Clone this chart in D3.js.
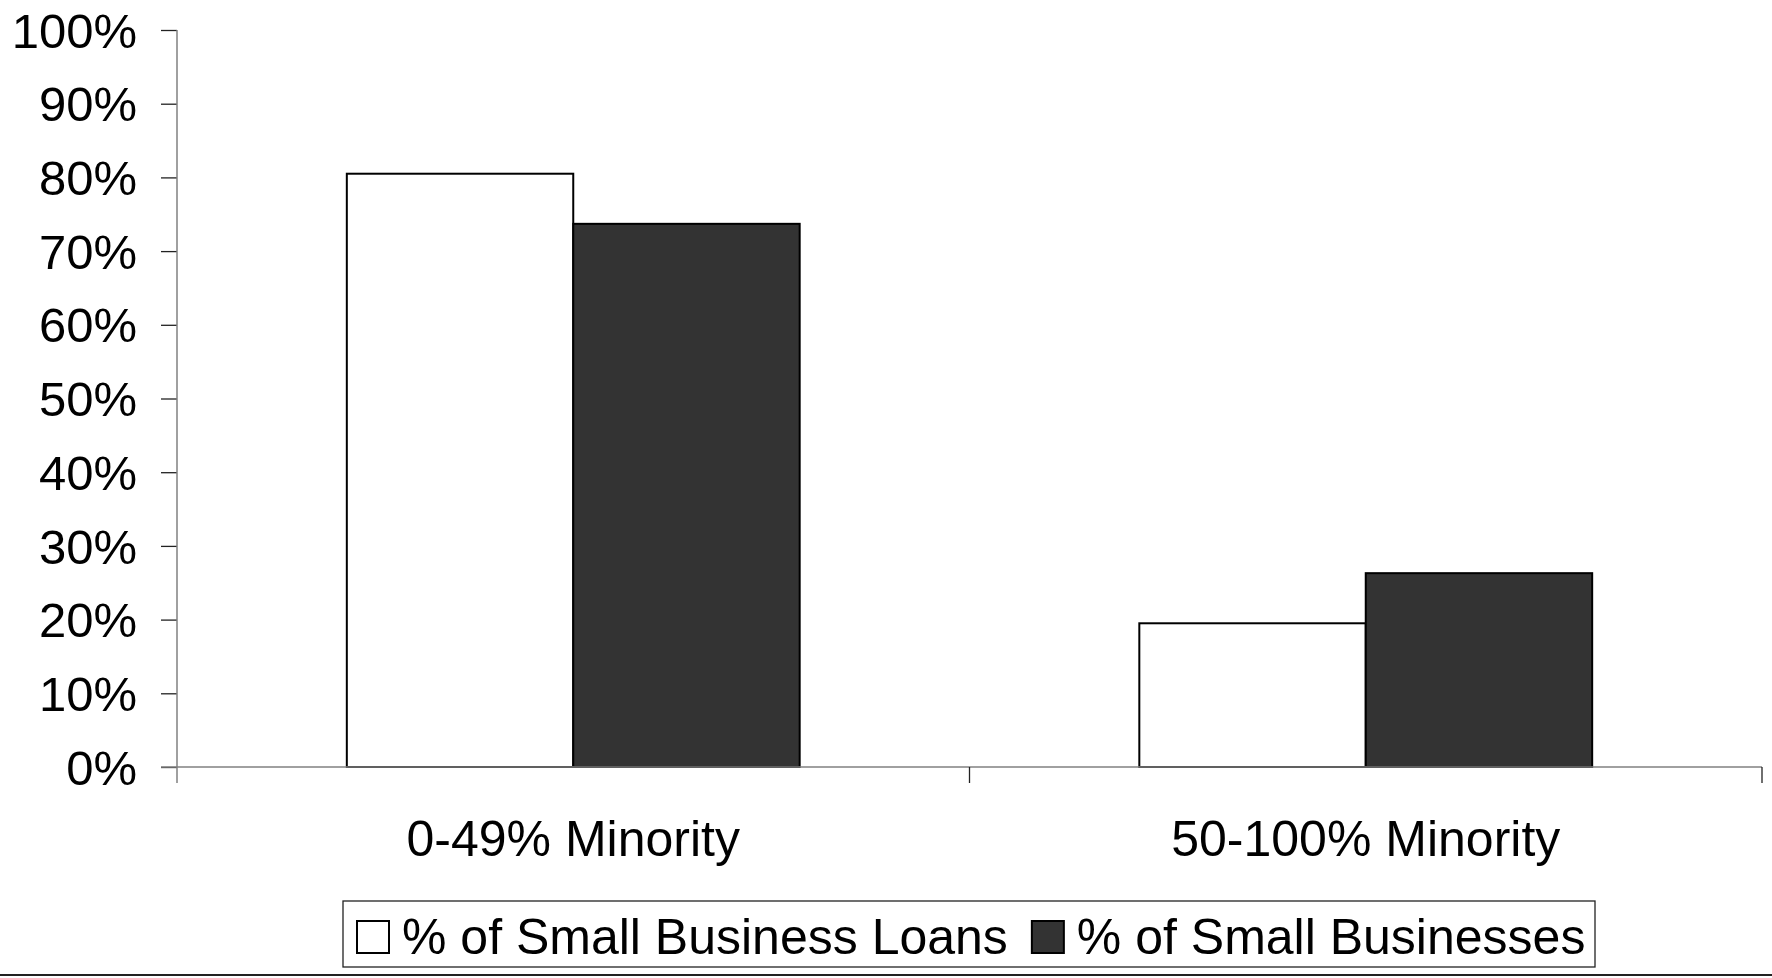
<!DOCTYPE html>
<html>
<head>
<meta charset="utf-8">
<script src="https://cdn.jsdelivr.net/npm/d3@7"></script>
<style>
  html, body { margin: 0; padding: 0; background: #ffffff; }
  svg { display: block; font-family: "Liberation Sans", Arial, sans-serif; }
</style>
</head>
<body>
<svg id="chart" width="1772" height="978"></svg>
<script>
// Share of small business loans vs. share of small businesses, by tract minority level
const categories = ["0-49% Minority", "50-100% Minority"];
const seriesNames = ["% of Small Business Loans", "% of Small Businesses"];
const loansPct = [80.5, 19.5];
const businessesPct = [73.7, 26.3];
const yTicks = [0, 10, 20, 30, 40, 50, 60, 70, 80, 90, 100];
const seriesColors = ["#ffffff", "#333333"];

const width = 1772, height = 978;
const plot = { left: 177, right: 1762, top: 30, bottom: 767 };

const svg = d3.select("#chart");

const rows = categories.map((c, i) => ({ category: c, values: [loansPct[i], businessesPct[i]] }));

const x0 = d3.scaleBand().domain(categories).range([plot.left, plot.right]).paddingInner(0).paddingOuter(0);
// Gap width of 150% between clusters: bar = band / 3.5
const barW = x0.bandwidth() / 3.5;
const x1 = d3.scaleBand().domain([0, 1]).range([0, barW * 2]);
const y = d3.scaleLinear().domain([0, 100]).range([plot.bottom, plot.top]);

// Bars
const groups = svg.append("g").selectAll("g").data(rows).join("g")
  .attr("transform", d => `translate(${x0(d.category) + (x0.bandwidth() - barW * 2) / 2},0)`);
groups.selectAll("rect").data(d => d.values.map((v, k) => ({ v, k }))).join("rect")
  .attr("x", d => x1(d.k))
  .attr("y", d => y(d.v))
  .attr("width", x1.bandwidth())
  .attr("height", d => y(0) - y(d.v))
  .attr("fill", d => seriesColors[d.k])
  .attr("stroke", "#000")
  .attr("stroke-width", 2);

// Y axis
const yAxis = d3.axisLeft(y).tickValues(yTicks).tickFormat(d => d + "%").tickSize(16).tickPadding(24);
const gy = svg.append("g").attr("transform", `translate(${plot.left},0)`).call(yAxis);
gy.select(".domain").remove();
gy.selectAll(".tick line").attr("stroke", "#222").attr("stroke-width", 1.3);
gy.selectAll(".tick text").attr("font-size", 49).attr("fill", "#000")
  .attr("font-family", "'Liberation Sans', Arial, sans-serif").attr("dy", "0.35em");
svg.append("line").attr("x1", plot.left).attr("x2", plot.left)
  .attr("y1", plot.top).attr("y2", plot.bottom + 16)
  .attr("stroke", "#808080").attr("stroke-width", 1.5);

// X axis baseline and category separators
svg.append("line").attr("x1", plot.left - 16).attr("x2", plot.right)
  .attr("y1", plot.bottom).attr("y2", plot.bottom)
  .attr("stroke", "#808080").attr("stroke-width", 1.5);
const sepX = categories.map(c => x0(c) + x0.bandwidth());
svg.append("g").selectAll("line").data(sepX).join("line")
  .attr("x1", d => d).attr("x2", d => d)
  .attr("y1", plot.bottom).attr("y2", plot.bottom + 16)
  .attr("stroke", "#222").attr("stroke-width", 1.3);

// Category labels
svg.append("g").selectAll("text").data(categories).join("text")
  .attr("x", d => x0(d) + x0.bandwidth() / 2)
  .attr("y", 856)
  .attr("text-anchor", "middle")
  .attr("font-size", 50)
  .attr("fill", "#000")
  .text(d => d);

// Legend
const legend = svg.append("g");
legend.append("rect")
  .attr("x", 343).attr("y", 901).attr("width", 1252).attr("height", 66)
  .attr("fill", "#fff").attr("stroke", "#222").attr("stroke-width", 1.3);
let cursor = 357;
seriesNames.forEach((name, k) => {
  legend.append("rect")
    .attr("x", cursor).attr("y", 921).attr("width", 32).attr("height", 32)
    .attr("fill", seriesColors[k]).attr("stroke", "#000").attr("stroke-width", 2);
  const t = legend.append("text")
    .attr("x", cursor + 45).attr("y", 954)
    .attr("font-size", 50).attr("fill", "#000")
    .text(name);
  cursor = cursor + 45 + t.node().getComputedTextLength() + 24;
});

// Bottom rule across the figure
svg.append("line").attr("x1", 0).attr("x2", width)
  .attr("y1", 975).attr("y2", 975)
  .attr("stroke", "#222").attr("stroke-width", 2);
</script>
</body>
</html>
